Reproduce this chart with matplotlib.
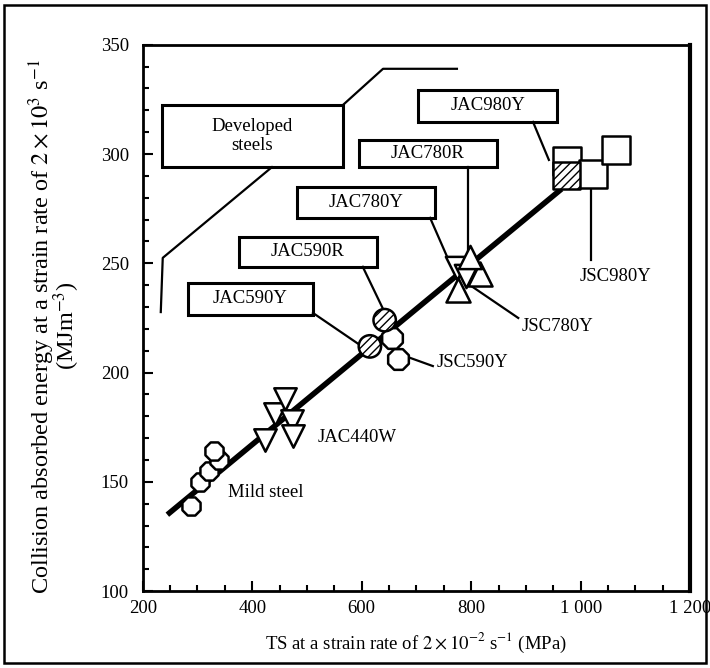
import matplotlib.pyplot as plt
from matplotlib.patches import Rectangle
from matplotlib.ticker import MultipleLocator

plt.rcParams['font.family'] = ['Liberation Serif', 'DejaVu Serif']
plt.rcParams['mathtext.fontset'] = 'stix'

# === Data (TS in MPa, absorbed energy in MJ/m3) ===
mild_ts = [288, 305, 322, 340, 330]
mild_e = [139, 150, 155, 160, 164]

jac440w_ts = [423, 441, 460, 472, 474]
jac440w_e = [169, 181, 188, 178, 171]

jac590y_ts = [615]
jac590y_e = [212]
jac590r_ts = [642]
jac590r_e = [224]
jsc590y_ts = [655, 666]
jsc590y_e = [216, 206]

jac780y_ts = [774, 790]
jac780y_e = [248, 244]
jac780r_ts = [798]
jac780r_e = [253]
jsc780y_ts = [776, 816]
jsc780y_e = [238, 245]

jac980y_ts = [975]
jac980y_e = [290]
jsc980y_ts = [975, 1023, 1065]
jsc980y_e = [297, 291, 302]

fit_ts = [245, 965]
fit_e = [135, 284]

x_ticks = [200, 400, 600, 800, 1000, 1200]
x_ticklabels = ["200", "400", "600", "800", "1 000", "1 200"]
y_ticks = [100, 150, 200, 250, 300, 350]

fig = plt.figure(figsize=(7.10, 6.68), dpi=100)
ax = fig.add_axes([0.201, 0.115, 0.771, 0.818])

# frame around whole figure
fig.patches.append(Rectangle((0.006, 0.007), 0.988, 0.986, transform=fig.transFigure,
                             fill=False, lw=1.8, ec="black"))

ax.plot(fit_ts, fit_e, color="black", lw=4, solid_capstyle="butt", zorder=2)

mk = dict(facecolor="white", edgecolor="black", linewidths=1.8, zorder=3)
ax.scatter(mild_ts, mild_e, marker="8", s=200, **mk)
ax.scatter(jac440w_ts, jac440w_e, marker="v", s=260, **mk)
ax.scatter(jsc590y_ts, jsc590y_e, marker="8", s=260, **mk)
ax.scatter(jac590y_ts, jac590y_e, marker="o", s=260, hatch="////", **mk)
ax.scatter(jac590r_ts, jac590r_e, marker="o", s=260, hatch="////", **mk)
ax.scatter(jac780y_ts, jac780y_e, marker="v", s=280, **mk)
ax.scatter(jsc780y_ts, jsc780y_e, marker="^", s=300, **mk)
ax.scatter(jac780r_ts, jac780r_e, marker="^", s=280, **mk)
ax.scatter(jsc980y_ts, jsc980y_e, marker="s", s=380, **mk)
ax.scatter(jac980y_ts, jac980y_e, marker="s", s=380, hatch="////", **mk)

# labelled boxes: (x0, x1, y0, y1, text)
boxes = [
    (703, 957, 314.7, 329.4, "JAC980Y"),
    (595, 847, 294.0, 306.5, "JAC780R"),
    (481, 734, 270.8, 285.0, "JAC780Y"),
    (375, 628, 248.4, 262.0, "JAC590R"),
    (282, 511, 226.4, 241.0, "JAC590Y"),
    (235, 566, 294.0, 322.5, "Developed\nsteels"),
]
for x0, x1, y0, y1, txt in boxes:
    ax.add_patch(Rectangle((x0, y0), x1 - x0, y1 - y0, fill=False,
                           lw=2.2, ec="black", zorder=4))
    ax.text((x0 + x1) / 2, (y0 + y1) / 2, txt, ha="center", va="center",
            fontsize=13.5, linespacing=1.1, zorder=5)

# leader lines
leaders = [
    ([913, 942], [314.7, 297.3]),
    ([794, 794], [294.0, 254.0]),
    ([725, 761], [270.8, 250.2]),
    ([602, 646], [248.4, 225.5]),
    ([511, 597], [227.3, 212.6]),
    ([679, 730], [207.6, 203.0]),
    ([798, 886], [240.0, 225.0]),
    ([1019, 1019], [284.5, 251.6]),
    ([566, 639, 774], [322.5, 339.0, 339.0]),
    ([436, 236.6, 233], [294.0, 252.5, 227.7]),
]
for xs, ys in leaders:
    ax.plot(xs, ys, color="black", lw=1.6, zorder=2.5)

ax.text(355, 145, "Mild steel", fontsize=13.5, va="center")
ax.text(520, 170.5, "JAC440W", fontsize=13.5, va="center")
ax.text(737, 204.5, "JSC590Y", fontsize=13.5, va="center")
ax.text(892, 221, "JSC780Y", fontsize=13.5, va="center")
ax.text(999, 244, "JSC980Y", fontsize=13.5, va="center")

ax.set_xlim(200, 1200)
ax.set_ylim(100, 350)
ax.set_xticks(x_ticks)
ax.set_xticklabels(x_ticklabels)
ax.set_yticks(y_ticks)
ax.xaxis.set_minor_locator(MultipleLocator(50))
ax.yaxis.set_minor_locator(MultipleLocator(10))
ax.tick_params(which="both", direction="in", top=False, right=False,
               labelsize=13.5, width=1.5)
ax.tick_params(which="major", length=7)
ax.tick_params(which="minor", length=4)
ax.tick_params(axis="y", which="major", pad=10)
ax.tick_params(axis="x", which="major", pad=6)
for side in ["left", "bottom", "top"]:
    ax.spines[side].set_linewidth(2)
ax.spines["right"].set_linewidth(3)

ax.set_xlabel(r"TS at a strain rate of $2\times10^{-2}$ s$^{-1}$ (MPa)", fontsize=13.5, labelpad=10)
ax.set_ylabel("Collision absorbed energy at a strain rate of $2\\times10^{3}$ s$^{-1}$\n(MJm$^{-3}$)",
              fontsize=17.5, linespacing=0.8)
ax.yaxis.set_label_coords(-0.11, 0.485)

fig.savefig("out.png", dpi=100)
